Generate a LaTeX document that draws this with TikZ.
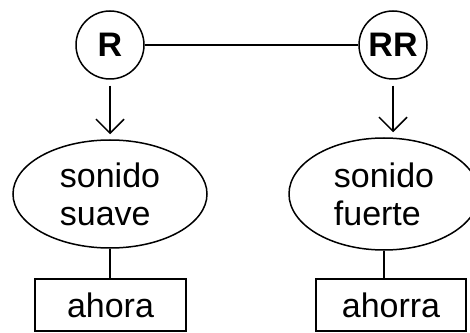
\documentclass[tikz,border=0pt]{standalone}
\usepackage{fontspec}
\setmainfont{Liberation Sans}
\usetikzlibrary{arrows.meta,shapes.geometric}

\newcommand{\letra}{\fontsize{34}{38}\selectfont}

\tikzset{
    circ/.style={draw, circle, line width=1.5pt, minimum size=68pt, inner sep=0pt, font=\letra\bfseries},
    ovalo/.style={draw, ellipse, line width=1.5pt, inner sep=0pt, align=left},
    caja/.style={draw, rectangle, line width=1.5pt, minimum width=151pt, minimum height=52pt, inner sep=0pt},
    flecha/.style={-{Straight Barb[length=14pt,width=28pt]}, line width=1.5pt, shorten <=6pt, shorten >=5pt}
}

\begin{document}
\begin{tikzpicture}[x=1pt, y=1pt, font=\letra]
    \useasboundingbox (0,0) rectangle (470,332);

    % sonidos
    \node[circ] (R) at (110,287) {R};
    \node[circ] (RR) at (393,287) {RR};
    \draw[line width=1.5pt] (R) -- (RR);

    % ovalos
    \node[ovalo, minimum width=194pt, minimum height=108pt] (suave) at (110,138) {sonido\\suave};
    \node[ovalo, minimum width=190pt, minimum height=112pt] (fuerte) at (384,138) {sonido\\fuerte};
    \draw[flecha] (R.south) -- (suave.north);
    \draw[flecha] (RR.south) -- (RR.south |- fuerte.north);

    % palabras
    \node[caja] (ahora) at (110.5,27) {ahora};
    \node[caja, minimum width=150pt] (ahorra) at (391,27) {ahorra};
    \draw[line width=1.5pt] (suave.south) -- (suave.south |- ahora.north);
    \draw[line width=1.5pt] (fuerte.south) -- (fuerte.south |- ahorra.north);
\end{tikzpicture}
\end{document}
